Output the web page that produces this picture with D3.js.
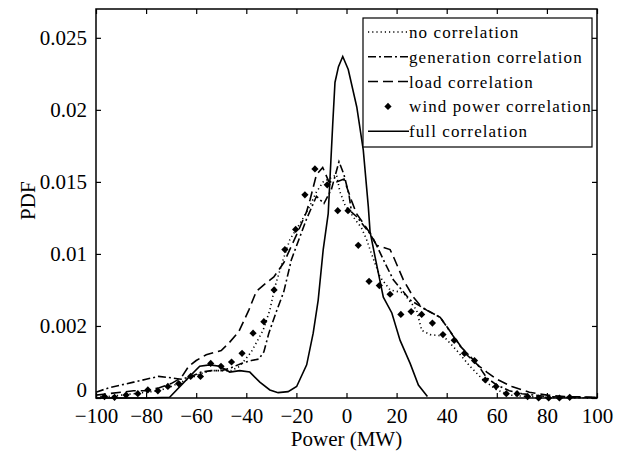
<!DOCTYPE html>
<html>
<head>
<meta charset="utf-8">
<script src="https://cdn.jsdelivr.net/npm/d3@7"></script>
<style>
  body { margin: 0; background: #fff; }
  svg text { font-family: "Liberation Serif", "DejaVu Serif", serif; fill: #000; }
</style>
</head>
<body>
<div id="chart"></div>
<script>
// axis ticks
const xTicks = [-100, -80, -60, -40, -20, 0, 20, 40, 60, 80, 100];
const yTicks = [0, 0.005, 0.01, 0.015, 0.02, 0.025];
const yTickLabels = ['0', '0.002', '0.01', '0.015', '0.02', '0.025'];

// no correlation (dotted)
const noCorrX = [-100, -95, -90, -85, -80, -75, -70, -66, -62, -58, -54, -50, -46, -42.6, -38, -33.3, -30.6, -28.6, -25.3, -22.6, -18.6, -15, -12, -9.3, -6, -4, -2.6, -0.6, 3, 6, 8, 10, 13.4, 17.4, 22.7, 28, 30, 33.4, 38.7, 44, 49.3, 54.6, 60, 65.4, 72, 80, 100];
const noCorrY = [0.0001, 0.0001, 0.0002, 0.0003, 0.0004, 0.0005, 0.0008, 0.0011, 0.0014, 0.0017, 0.0019, 0.0019, 0.0019, 0.0022, 0.0032, 0.0047, 0.0061, 0.0077, 0.0096, 0.0110, 0.0121, 0.0132, 0.0143, 0.0150, 0.0153, 0.0155, 0.0143, 0.0134, 0.0125, 0.0118, 0.0110, 0.0100, 0.0084, 0.0075, 0.0073, 0.0061, 0.0047, 0.0044, 0.0043, 0.0033, 0.0022, 0.00125, 0.00056, 0.0002, 0.0001, 0.00005, 0];

// generation correlation (dash-dot)
const genCorrX = [-100, -95, -90, -85, -80, -75, -70, -66, -62, -58, -54, -50, -46, -42, -38, -35, -33, -31, -28, -25, -22, -19, -16, -12, -9, -6, -3, -1, 1, 2, 4, 9.4, 12, 15, 18.7, 25.4, 32, 37.4, 45.4, 52, 56, 60, 65, 70, 75, 80, 90, 100];
const genCorrY = [0.0004, 0.0007, 0.0009, 0.0011, 0.0013, 0.0015, 0.0014, 0.0013, 0.0015, 0.0018, 0.0019, 0.0019, 0.0021, 0.0024, 0.0026, 0.0027, 0.0032, 0.0045, 0.0060, 0.0074, 0.0096, 0.0110, 0.0124, 0.0140, 0.0135, 0.0145, 0.0164, 0.0155, 0.0141, 0.0129, 0.0126, 0.0114, 0.0106, 0.0095, 0.0082, 0.0068, 0.0061, 0.0056, 0.0036, 0.0024, 0.0014, 0.0009, 0.0005, 0.0003, 0.0002, 0.0001, 0.00005, 0.00003];

// load correlation (dashed)
const loadCorrX = [-100, -95, -90, -85, -80, -75, -70, -66, -63, -60, -56, -52, -50, -47, -43, -39, -36, -32, -29, -25, -20, -16, -14.5, -12, -9.5, -7, -4, -1, 2, 4, 8, 10, 12, 17.4, 19, 22.7, 26.7, 30, 32, 37.4, 42.7, 48, 53, 56, 60, 66, 73, 80, 87, 100];
const loadCorrY = [0.0002, 0.0003, 0.0004, 0.0005, 0.0005, 0.0007, 0.0010, 0.0014, 0.0022, 0.0026, 0.0030, 0.0032, 0.0033, 0.0038, 0.0046, 0.0061, 0.0074, 0.0080, 0.0084, 0.0094, 0.0113, 0.0129, 0.0138, 0.0155, 0.0160, 0.0150, 0.0150, 0.0152, 0.0137, 0.0128, 0.0118, 0.0113, 0.0106, 0.0103, 0.0097, 0.0082, 0.0070, 0.0063, 0.0061, 0.0056, 0.0043, 0.0030, 0.0022, 0.0018, 0.0013, 0.0008, 0.0004, 0.0002, 0.0001, 0.00005];

// wind power correlation (markers)
const windCorrX = [-96.6, -92.6, -88, -83.3, -79.3, -75.3, -71.3, -67, -62.2, -58.3, -54.2, -50.1, -45.9, -41.7, -37.3, -33, -28.9, -24.6, -20.3, -16.6, -12.6, -7.7, -3.5, 0.6, 4.7, 9, 13.1, 17.4, 21.7, 25.8, 30, 34.3, 38.5, 43, 47.1, 51.1, 55.4, 59.7, 63.8, 68.1, 72.3, 76.7, 80.7, 85, 89.1];
const windCorrY = [0.0001, 0.00005, 0.0002, 0.0003, 0.00056, 0.0005, 0.0008, 0.001, 0.0015, 0.0015, 0.0024, 0.0022, 0.0025, 0.0031, 0.0045, 0.0053, 0.0075, 0.0103, 0.0117, 0.0141, 0.0159, 0.0148, 0.0130, 0.0130, 0.0106, 0.0081, 0.0078, 0.0072, 0.0058, 0.0060, 0.0058, 0.0052, 0.0044, 0.0040, 0.0031, 0.0026, 0.00125, 0.0008, 0.0003, 0.0003, 0.0001, 0, 0, 0, 0.00005];

// full correlation (solid)
const fullCorrX = [-100, -90, -80, -70.6, -62.6, -58.6, -54.6, -50.6, -46.6, -42.6, -38.6, -34.6, -30.6, -27.3, -23.3, -19.9, -15.9, -13.3, -11.3, -9.3, -7.3, -5.5, -4.6, -3.2, -1.5, 0.7, 4.1, 6.7, 8.7, 9.4, 11.4, 14.7, 18.1, 21.4, 25.4, 28.7, 32.3];
const fullCorrY = [0, 0, 0, 0.00005, 0.0015, 0.0022, 0.0023, 0.0022, 0.0018, 0.0019, 0.0018, 0.0011, 0.00056, 0.00037, 0.00044, 0.0008, 0.0023, 0.0045, 0.0068, 0.0103, 0.0128, 0.0190, 0.0219, 0.0230, 0.0237, 0.0228, 0.0202, 0.0172, 0.0133, 0.01155, 0.0098, 0.0070, 0.0059, 0.0040, 0.0024, 0.0009, 0.0001];

const width = 624, height = 458;
const margin = { top: 9, right: 27, bottom: 60, left: 96 };

const svg = d3.select('#chart').append('svg')
  .attr('width', width)
  .attr('height', height);

const x = d3.scaleLinear().domain([-100, 100]).range([margin.left, width - margin.right]);
const y = d3.scaleLinear().domain([0, 0.027]).range([height - margin.bottom, margin.top]);

const zip = (xs, ys) => xs.map((v, i) => [v, ys[i]]);

const lines = [
  { name: 'no correlation', data: zip(noCorrX, noCorrY), dash: '1.2,3' },
  { name: 'generation correlation', data: zip(genCorrX, genCorrY), dash: '8,3,2,3' },
  { name: 'load correlation', data: zip(loadCorrX, loadCorrY), dash: '10,5' },
  { name: 'wind power correlation', data: zip(windCorrX, windCorrY), marker: true },
  { name: 'full correlation', data: zip(fullCorrX, fullCorrY), dash: null }
];

const line = d3.line().x(d => x(d[0])).y(d => y(d[1]));
const diamond = d3.symbol().type(d3.symbolSquare).size(26);

const plot = svg.append('g');

lines.forEach(s => {
  if (s.marker) {
    plot.selectAll(null)
      .data(s.data)
      .enter().append('path')
      .attr('d', diamond)
      .attr('transform', d => `translate(${x(d[0])},${y(d[1])}) rotate(45)`)
      .attr('fill', '#000');
  } else {
    plot.append('path')
      .datum(s.data)
      .attr('fill', 'none')
      .attr('stroke', '#000')
      .attr('stroke-width', 1.6)
      .attr('stroke-dasharray', s.dash)
      .attr('d', line);
  }
});

// axes: box with inward ticks on all sides
const tickLen = 5;
const axisB = svg.append('g')
  .attr('transform', `translate(0,${y(0)})`)
  .call(d3.axisBottom(x).tickValues(xTicks).tickSizeInner(-tickLen).tickSizeOuter(0).tickPadding(10));
const axisT = svg.append('g')
  .attr('transform', `translate(0,${margin.top})`)
  .call(d3.axisTop(x).tickValues(xTicks).tickSizeInner(-tickLen).tickSizeOuter(0).tickFormat(''));
const axisL = svg.append('g')
  .attr('transform', `translate(${margin.left},0)`)
  .call(d3.axisLeft(y).tickValues(yTicks).tickSizeInner(-tickLen).tickSizeOuter(0).tickPadding(9)
    .tickFormat((d, i) => yTickLabels[i]));
const axisR = svg.append('g')
  .attr('transform', `translate(${width - margin.right},0)`)
  .call(d3.axisRight(y).tickValues(yTicks).tickSizeInner(-tickLen).tickSizeOuter(0).tickFormat(''));

[axisB, axisT, axisL, axisR].forEach(g => {
  g.select('.domain').remove();
  g.selectAll('.tick line').attr('stroke', '#000').attr('stroke-width', 1.2);
  g.selectAll('.tick text')
    .style('font-family', '"Liberation Serif", serif')
    .style('font-size', '21px')
    .attr('fill', '#000');
});

// the zero label sits a little higher so it clears -100
axisL.selectAll('.tick text').filter(d => d === 0).attr('dy', '-0.05em');

svg.append('rect')
  .attr('x', margin.left)
  .attr('y', margin.top)
  .attr('width', width - margin.left - margin.right)
  .attr('height', height - margin.top - margin.bottom)
  .attr('fill', 'none')
  .attr('stroke', '#000')
  .attr('stroke-width', 1.5);

// axis labels
svg.append('text')
  .attr('x', x(0))
  .attr('y', 446)
  .attr('text-anchor', 'middle')
  .style('font-size', '21px')
  .text('Power (MW)');

svg.append('text')
  .attr('transform', `translate(35,${y(0.0137)}) rotate(-90)`)
  .attr('text-anchor', 'middle')
  .style('font-size', '21px')
  .text('PDF');

// legend
const legend = svg.append('g').attr('transform', 'translate(363,18)');
legend.append('rect')
  .attr('width', 229)
  .attr('height', 129)
  .attr('fill', '#fff')
  .attr('stroke', '#000')
  .attr('stroke-width', 1.2);

lines.forEach((s, i) => {
  const ly = 14 + i * 24.8;
  if (s.marker) {
    legend.append('path')
      .attr('d', diamond)
      .attr('transform', `translate(25,${ly}) rotate(45)`)
      .attr('fill', '#000');
  } else {
    legend.append('line')
      .attr('x1', 5).attr('x2', 46)
      .attr('y1', ly).attr('y2', ly)
      .attr('stroke', '#000')
      .attr('stroke-width', 1.5)
      .attr('stroke-dasharray', s.dash);
  }
  legend.append('text')
    .attr('x', 46)
    .attr('y', ly + 6)
    .style('font-size', '17px')
    .style('letter-spacing', '1.1px')
    .text(s.name);
});
</script>
</body>
</html>
